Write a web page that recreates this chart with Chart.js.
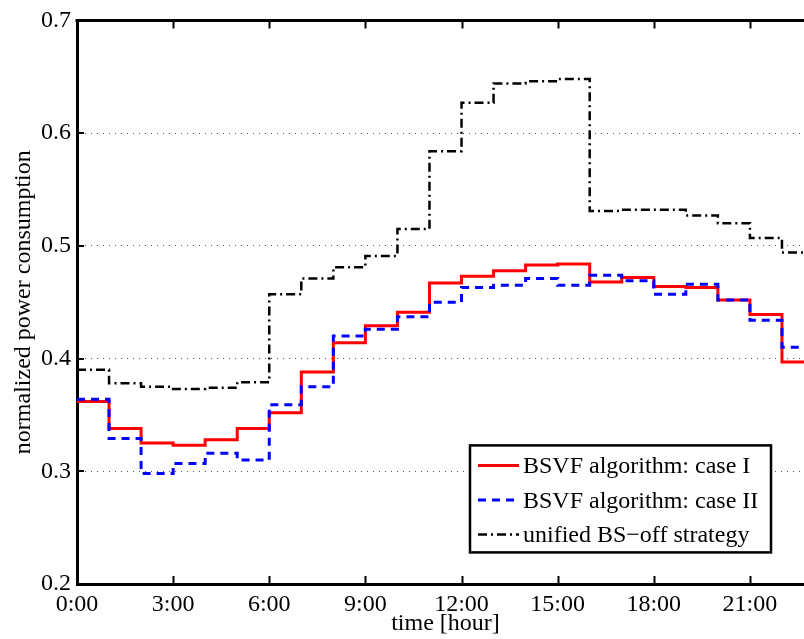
<!DOCTYPE html>
<html>
<head>
<meta charset="utf-8">
<script src="https://cdn.jsdelivr.net/npm/chart.js@4.4.1/dist/chart.umd.min.js"></script>
<style>
  html, body { margin: 0; padding: 0; background: #fff; overflow: hidden; }
  #wrap { width: 804px; height: 639px; overflow: hidden; }
  canvas { display: block; }
</style>
</head>
<body>
<div id="wrap"><canvas id="powerChart" width="830" height="639"></canvas></div>
<script>
// hours of the day (stairs: each value holds until the next hour)
const hours = [0, 1, 2, 3, 4, 5, 6, 7, 8, 9, 10, 11, 12, 13, 14, 15, 16, 17, 18, 19, 20, 21, 22, 23];

const caseOne = [0.362, 0.338, 0.325, 0.323, 0.328, 0.338, 0.352, 0.388, 0.414, 0.429, 0.441, 0.467,
  0.473, 0.478, 0.483, 0.484, 0.468, 0.472, 0.464, 0.463, 0.452, 0.439, 0.397, 0.397];
const caseTwo = [0.364, 0.329, 0.298, 0.307, 0.316, 0.310, 0.359, 0.375, 0.420, 0.426, 0.437, 0.450,
  0.463, 0.465, 0.471, 0.465, 0.474, 0.469, 0.457, 0.466, 0.452, 0.434, 0.410, 0.410];
const unifiedOff = [0.390, 0.378, 0.375, 0.373, 0.374, 0.379, 0.457, 0.471, 0.481, 0.491, 0.515, 0.584,
  0.627, 0.644, 0.646, 0.648, 0.531, 0.532, 0.532, 0.527, 0.520, 0.507, 0.494, 0.494];

const xTicks = [0, 3, 6, 9, 12, 15, 18, 21];
const yTicks = [0.2, 0.3, 0.4, 0.5, 0.6, 0.7];
const seriesNames = ['BSVF algorithm: case I', 'BSVF algorithm: case II', 'unified BS\u2212off strategy'];

const serif = '"Liberation Serif", "Times New Roman", serif';

function toPoints(values) {
  return hours.map((h, i) => ({ x: h, y: values[i] }));
}

const series = [
  { name: seriesNames[0], values: caseOne, color: '#ff0000', width: 3, dash: [], order: 3 },
  { name: seriesNames[1], values: caseTwo, color: '#0000ff', width: 3, dash: [8, 6], order: 2 },
  { name: seriesNames[2], values: unifiedOff, color: '#000000', width: 2.5, dash: [9, 4, 2, 4], order: 1 }
];

// box border on top + inward tick marks, like the matlab axes
const framePlugin = {
  id: 'frame',
  afterDraw(chart) {
    const { ctx, chartArea: a, scales: { x, y } } = chart;
    ctx.save();
    ctx.strokeStyle = '#000';
    ctx.lineWidth = 3;
    ctx.beginPath();
    ctx.moveTo(a.left - 1.5, a.top);
    ctx.lineTo(a.right + 20, a.top);
    ctx.stroke();

    ctx.lineWidth = 2;
    xTicks.forEach(v => {
      const px = Math.round(x.getPixelForValue(v)) + 0.5;
      ctx.beginPath();
      ctx.moveTo(px, a.bottom);
      ctx.lineTo(px, a.bottom - 8);
      ctx.moveTo(px, a.top);
      ctx.lineTo(px, a.top + 8);
      ctx.stroke();
    });
    yTicks.forEach(v => {
      const py = Math.round(y.getPixelForValue(v));
      ctx.beginPath();
      ctx.moveTo(a.left, py);
      ctx.lineTo(a.left + 7, py);
      ctx.stroke();
    });
    ctx.restore();
  }
};

// legend box in the lower right corner of the plot
const legendPlugin = {
  id: 'boxLegend',
  afterDraw(chart) {
    const { ctx, chartArea: a } = chart;
    const boxLeft = a.left + 393;
    const boxTop = a.top + 425;
    const boxW = 301;
    const boxH = 107;
    ctx.save();
    ctx.fillStyle = '#fff';
    ctx.fillRect(boxLeft, boxTop, boxW, boxH);
    ctx.strokeStyle = '#000';
    ctx.lineWidth = 2.5;
    ctx.strokeRect(boxLeft, boxTop, boxW, boxH);

    ctx.font = '24px ' + serif;
    ctx.textBaseline = 'alphabetic';
    ctx.textAlign = 'left';
    series.forEach((s, i) => {
      const rowY = boxTop + 20 + i * 34.5;
      ctx.strokeStyle = s.color;
      ctx.lineWidth = s.width;
      ctx.setLineDash(s.dash);
      ctx.beginPath();
      ctx.moveTo(boxLeft + 8, rowY);
      ctx.lineTo(boxLeft + 49, rowY);
      ctx.stroke();
      ctx.setLineDash([]);
      ctx.fillStyle = '#000';
      ctx.fillText(s.name, boxLeft + 53, rowY + 8);
    });
    ctx.restore();
  }
};

const ctx = document.getElementById('powerChart').getContext('2d');
new Chart(ctx, {
  type: 'line',
  data: {
    datasets: series.map(s => ({
      label: s.name,
      data: toPoints(s.values),
      borderColor: s.color,
      borderWidth: s.width,
      borderDash: s.dash,
      stepped: true,
      pointRadius: 0,
      fill: false,
      order: s.order
    }))
  },
  options: {
    responsive: false,
    animation: false,
    layout: { padding: { top: 16, right: 16, left: 0, bottom: 0 } },
    plugins: {
      legend: { display: false },
      tooltip: { enabled: false }
    },
    scales: {
      x: {
        type: 'linear',
        min: 0,
        max: 23,
        afterFit: s => { s.height = 55; },
        grid: { display: false, drawTicks: false },
        border: { display: true, color: '#000', width: 3 },
        ticks: {
          stepSize: 3,
          includeBounds: false,
          autoSkip: false,
          maxRotation: 0,
          padding: 6,
          color: '#000',
          font: { family: serif, size: 24 },
          callback: v => v + ':00'
        },
        title: {
          display: true,
          text: 'time [hour]',
          color: '#000',
          font: { family: serif, size: 24 },
          padding: { top: 0, bottom: 1 }
        }
      },
      y: {
        min: 0.2,
        max: 0.7,
        afterFit: s => { s.width = 77; },
        grid: { color: '#555', lineWidth: 1, drawTicks: false },
        border: { display: true, color: '#000', width: 3, dash: [1, 5] },
        ticks: {
          stepSize: 0.1,
          padding: 6,
          color: '#000',
          font: { family: serif, size: 24 },
          callback: v => Number(v).toFixed(1)
        },
        title: {
          display: true,
          text: 'normalized power consumption',
          color: '#000',
          font: { family: serif, size: 24 },
          padding: { top: 9, bottom: 0 }
        }
      }
    }
  },
  plugins: [framePlugin, legendPlugin]
});
</script>
</body>
</html>
